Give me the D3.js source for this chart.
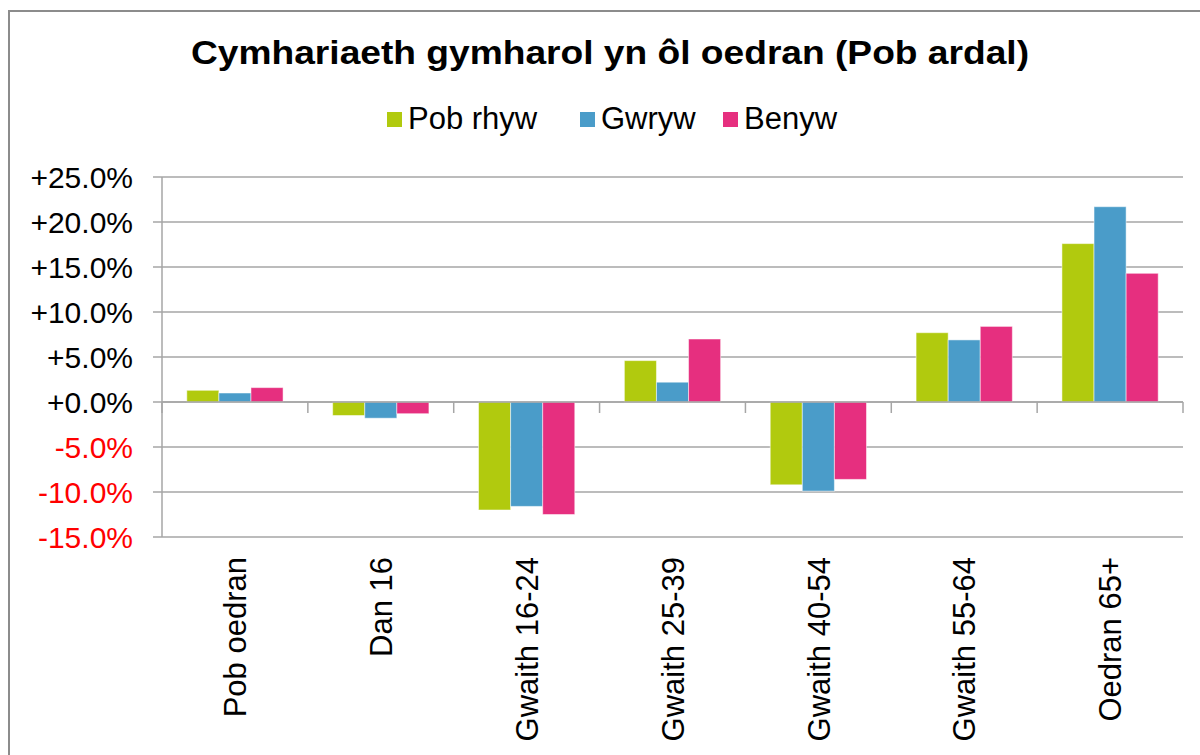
<!DOCTYPE html>
<html>
<head>
<meta charset="utf-8">
<script src="https://cdn.jsdelivr.net/npm/d3@7"></script>
<style>
  body { margin: 0; background: #fff; }
  text { font-family: "Liberation Sans", Arial, sans-serif; }
</style>
</head>
<body>
<div id="chart"></div>
<script>
// Categories and series (percent change)
const categories = ["Pob oedran", "Dan 16", "Gwaith 16-24", "Gwaith 25-39", "Gwaith 40-54", "Gwaith 55-64", "Oedran 65+"];
const seriesNames = ["Pob rhyw", "Gwryw", "Benyw"];
const pobRhyw = [1.3, -1.5, -12.0, 4.6, -9.2, 7.7, 17.6];
const gwryw = [1.0, -1.8, -11.6, 2.2, -9.9, 6.9, 21.7];
const benyw = [1.6, -1.3, -12.5, 7.0, -8.6, 8.4, 14.3];
const yTicks = [-15, -10, -5, 0, 5, 10, 15, 20, 25];
const colors = ["#B1CA0E", "#4A9CC9", "#E62F7F"];

const width = 1200, height = 755;
const margin = { top: 177, right: 17, bottom: 218, left: 162 };

const data = categories.map((c, i) => ({
  cat: c,
  values: [pobRhyw[i], gwryw[i], benyw[i]],
}));

const svg = d3.select("#chart").append("svg")
  .attr("width", width).attr("height", height);

// outer frame
svg.append("rect")
  .attr("x", 9).attr("y", 11)
  .attr("width", width + 20).attr("height", height + 20)
  .attr("fill", "#fff").attr("stroke", "#8c8c8c").attr("stroke-width", 2);

// Title
svg.append("text")
  .attr("x", 610).attr("y", 64)
  .attr("text-anchor", "middle")
  .attr("font-size", 33).attr("font-weight", "bold")
  .attr("textLength", 838).attr("lengthAdjust", "spacingAndGlyphs")
  .text("Cymhariaeth gymharol yn ôl oedran (Pob ardal)");

// Legend
const legendX = [387, 580, 723];
const legend = svg.append("g").selectAll("g").data(seriesNames).join("g")
  .attr("transform", (d, i) => `translate(${legendX[i]},112)`);
legend.append("rect")
  .attr("width", 15).attr("height", 15)
  .attr("fill", (d, i) => colors[i]);
legend.append("text")
  .attr("x", 21).attr("y", 17)
  .attr("font-size", 31)
  .text((d) => d);

const g = svg.append("g").attr("transform", `translate(${margin.left},${margin.top})`);
const iw = width - margin.left - margin.right;
const ih = height - margin.top - margin.bottom;

const x0 = d3.scaleBand().domain(categories).range([0, iw]).padding(0);
const x1 = d3.scaleBand().domain(d3.range(3))
  .range([x0.bandwidth() * 0.17, x0.bandwidth() * 0.83]).padding(0);
const y = d3.scaleLinear().domain([-15, 25]).range([ih, 0]);

// grid lines
g.append("g").selectAll("line").data(yTicks).join("line")
  .attr("x1", -9).attr("x2", iw)
  .attr("y1", (d) => y(d)).attr("y2", (d) => y(d))
  .attr("stroke", "#a6a6a6").attr("stroke-width", 1.5);

// y axis line
g.append("line")
  .attr("x1", 0).attr("x2", 0).attr("y1", 0).attr("y2", ih)
  .attr("stroke", "#a6a6a6").attr("stroke-width", 1.5);

// y labels
const fmt = (d) => (d < 0 ? "-" : "+") + Math.abs(d).toFixed(1) + "%";
g.append("g").selectAll("text").data(yTicks).join("text")
  .attr("x", -29).attr("y", (d) => y(d))
  .attr("dy", "0.36em")
  .attr("text-anchor", "end")
  .attr("font-size", 30)
  .attr("fill", (d) => (d < 0 ? "#ff0000" : "#000"))
  .text(fmt);

// bars
const groups = g.append("g").selectAll("g").data(data).join("g")
  .attr("transform", (d) => `translate(${x0(d.cat)},0)`);
groups.selectAll("rect").data((d) => d.values).join("rect")
  .attr("x", (d, i) => x1(i))
  .attr("width", x1.bandwidth())
  .attr("y", (d) => y(Math.max(0, d)))
  .attr("height", (d) => Math.abs(y(d) - y(0)))
  .attr("fill", (d, i) => colors[i])
  .attr("stroke", "#fff").attr("stroke-opacity", 0.5).attr("stroke-width", 1);

// zero axis with category ticks
const xAxis = g.append("g").attr("transform", `translate(0,${y(0)})`);
xAxis.append("line")
  .attr("x1", 0).attr("x2", iw)
  .attr("stroke", "#a6a6a6").attr("stroke-width", 1.5);
const bounds = categories.map((c) => x0(c)).concat([iw]);
xAxis.selectAll(".tk").data(bounds).join("line")
  .attr("class", "tk")
  .attr("x1", (d) => d).attr("x2", (d) => d)
  .attr("y1", 0).attr("y2", 11)
  .attr("stroke", "#a6a6a6").attr("stroke-width", 1.5);

// x labels (rotated)
g.append("g").selectAll("text").data(categories).join("text")
  .attr("transform", (d) => `translate(${x0(d) + x0.bandwidth() / 2},${ih + 20}) rotate(-90)`)
  .attr("dy", "0.36em")
  .attr("text-anchor", "end")
  .attr("font-size", 31)
  .text((d) => d);
</script>
</body>
</html>
